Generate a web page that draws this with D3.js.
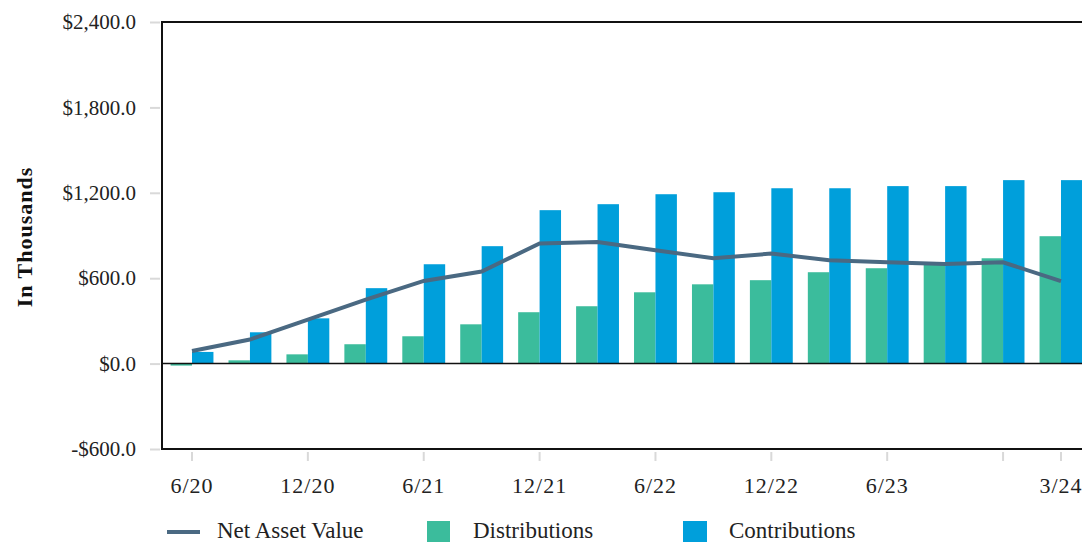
<!DOCTYPE html>
<html>
<head>
<meta charset="utf-8">
<script src="https://cdn.jsdelivr.net/npm/d3@7"></script>
<style>
  body { margin: 0; background: #fff; }
  svg { display: block; font-family: "Liberation Serif", "DejaVu Serif", serif; }
</style>
</head>
<body>
<script>
// quarters, 6/20 .. 3/24
const quarters = ["6/20","9/20","12/20","3/21","6/21","9/21","12/21","3/22","6/22","9/22","12/22","3/23","6/23","9/23","12/23","3/24"];
const distributions = [-14, 23, 65, 136, 192, 276, 361, 403, 501, 557, 586, 642, 670, 698, 740, 895];
const contributions = [82, 220, 318, 530, 698, 825, 1078, 1120, 1190, 1204, 1232, 1232, 1247, 1247, 1289, 1289];
const nav = [89, 169, 309, 450, 581, 647, 844, 855, 797, 740, 773, 726, 712, 700, 712, 579];
const tickQuarters = ["6/20","12/20","6/21","12/21","6/22","12/22","6/23","12/23","3/24"];
const labelQuarters = ["6/20","12/20","6/21","12/21","6/22","12/22","6/23","3/24"];
const yTicks = [-600, 0, 600, 1200, 1800, 2400];

const W = 1082, H = 542;
const plotL = 162, plotT = 22, plotB = 449, plotR = 1091;

const colNav = "#4a6982", colDist = "#3bbc9c", colContrib = "#009fdb";

const svg = d3.select("body").append("svg").attr("width", W).attr("height", H);

const y = d3.scaleLinear().domain([-600, 2400]).range([plotB, plotT]);
const x0 = d3.scaleBand().domain(quarters).range([plotL, plotR])
  .paddingInner(0.26).paddingOuter(0.148);
const x1 = d3.scaleBand().domain(["dist","contrib"]).range([0, x0.bandwidth()]);
const cx = q => x0(q) + x0.bandwidth() / 2;

// y axis ticks + labels
const yAxis = svg.append("g").attr("transform", `translate(${plotL},0)`)
  .call(d3.axisLeft(y).tickValues(yTicks).tickSize(12).tickPadding(14)
    .tickFormat(d => (d < 0 ? "-$" : "$") + d3.format(",.1f")(Math.abs(d))));
yAxis.select(".domain").remove();
yAxis.selectAll(".tick line").attr("stroke", "#d9d9d9").attr("stroke-width", 2)
  .attr("x2", -2).attr("x1", -12);
yAxis.selectAll(".tick text").attr("font-size", 21).attr("fill", "#222")
  .attr("font-family", "Liberation Serif");

// x axis
const xAxis = svg.append("g").attr("transform", `translate(0,${plotB})`)
  .call(d3.axisBottom(x0).tickValues(tickQuarters).tickSize(0).tickPadding(28)
    .tickFormat(d => labelQuarters.includes(d) ? d : ""));
xAxis.select(".domain").remove();
xAxis.selectAll(".tick").append("line")
  .attr("y1", 3).attr("y2", 12).attr("stroke", "#d9d9d9").attr("stroke-width", 2);
xAxis.selectAll(".tick text").attr("font-size", 22).attr("fill", "#222")
  .attr("letter-spacing", 1).attr("font-family", "Liberation Serif");

// bars
const groups = svg.append("g").selectAll("g").data(quarters).join("g")
  .attr("transform", d => `translate(${x0(d)},0)`);
groups.append("rect")
  .attr("x", x1("dist")).attr("width", x1.bandwidth())
  .attr("y", (d, i) => y(Math.max(0, distributions[i])))
  .attr("height", (d, i) => Math.abs(y(distributions[i]) - y(0)))
  .attr("fill", colDist);
groups.append("rect")
  .attr("x", x1("contrib")).attr("width", x1.bandwidth())
  .attr("y", (d, i) => y(Math.max(0, contributions[i])))
  .attr("height", (d, i) => Math.abs(y(contributions[i]) - y(0)))
  .attr("fill", colContrib);

// zero line
svg.append("line").attr("x1", plotL).attr("x2", plotR)
  .attr("y1", y(0)).attr("y2", y(0)).attr("stroke", "#111").attr("stroke-width", 1.5);

// nav line
svg.append("path").datum(nav)
  .attr("fill", "none").attr("stroke", colNav).attr("stroke-width", 4)
  .attr("d", d3.line().x((d, i) => cx(quarters[i])).y(d => y(d)));

// frame
svg.append("path")
  .attr("d", `M${plotR},${plotT}H${plotL}V${plotB}H${plotR}`)
  .attr("fill", "none").attr("stroke", "#111").attr("stroke-width", 2);

// y title
svg.append("text")
  .attr("transform", `translate(32,237) rotate(-90)`)
  .attr("text-anchor", "middle").attr("font-size", 22).attr("font-weight", "bold")
  .attr("letter-spacing", 1).attr("fill", "#111")
  .text("In Thousands");

// legend
const legend = svg.append("g").attr("font-size", 23).attr("fill", "#222");
legend.append("line").attr("x1", 167).attr("x2", 200).attr("y1", 532).attr("y2", 532)
  .attr("stroke", colNav).attr("stroke-width", 4);
legend.append("text").attr("x", 217).attr("y", 538).text("Net Asset Value");
legend.append("rect").attr("x", 427).attr("y", 521).attr("width", 23).attr("height", 23).attr("fill", colDist);
legend.append("text").attr("x", 473).attr("y", 538).text("Distributions");
legend.append("rect").attr("x", 683).attr("y", 521).attr("width", 24).attr("height", 23).attr("fill", colContrib);
legend.append("text").attr("x", 729).attr("y", 538).text("Contributions");
</script>
</body>
</html>
